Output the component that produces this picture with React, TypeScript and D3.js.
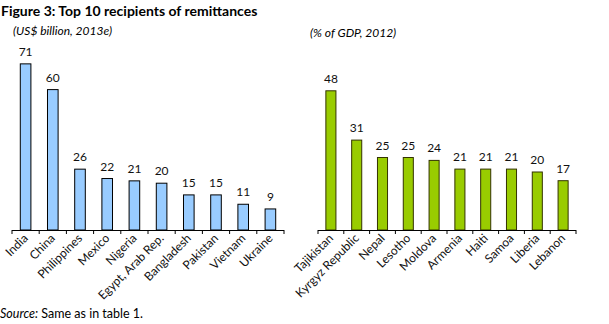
import React from "react";
import * as d3 from "d3";

const leftCategories = ["India", "China", "Philippines", "Mexico", "Nigeria", "Egypt, Arab Rep.", "Bangladesh", "Pakistan", "Vietnam", "Ukraine"];
const leftValues = [71, 60, 26, 22, 21, 20, 15, 15, 11, 9];
const rightCategories = ["Tajikistan", "Kyrgyz Republic", "Nepal", "Lesotho", "Moldova", "Armenia", "Haiti", "Samoa", "Liberia", "Lebanon"];
const rightValues = [48, 31, 25, 25, 24, 21, 21, 21, 20, 17];

const FONT = "Lato, 'Open Sans', sans-serif";

type PanelProps = {
  categories: string[];
  values: number[];
  x0: number;
  x1: number;
  yMaxValue: number;
  yMaxPx: number;
  fill: string;
  stroke: string;
};

function Panel({ categories, values, x0, x1, yMaxValue, yMaxPx, fill, stroke }: PanelProps) {
  const baseY = 230;
  const x = d3.scaleBand<string>().domain(categories).range([x0, x1]).paddingInner(0.61).paddingOuter(0.305);
  const y = d3.scaleLinear().domain([0, yMaxValue]).range([baseY, yMaxPx]);
  const step = x.step();
  const ticks = d3.range(categories.length + 1).map((i) => x0 + i * step);
  return (
    <g>
      {categories.map((c, i) => (
        <g key={c}>
          <rect
            x={x(c)!}
            y={y(values[i])}
            width={x.bandwidth()}
            height={baseY - y(values[i])}
            fill={fill}
            stroke={stroke}
            strokeWidth={1}
          />
          <text
            x={x(c)! + x.bandwidth() / 2}
            y={y(values[i]) - 8}
            textAnchor="middle"
            fontSize={12}
            fontFamily={FONT}
            fill="#111"
          >
            {values[i]}
          </text>
          <text
            transform={`translate(${x(c)! + x.bandwidth() / 2 + 3},${baseY + 9}) rotate(-45)`}
            textAnchor="end"
            fontSize={12}
            fontFamily={FONT}
            fill="#111"
          >
            {c}
          </text>
        </g>
      ))}
      <line x1={x0} x2={x1} y1={baseY + 0.5} y2={baseY + 0.5} stroke="#000" strokeWidth={1} />
      {ticks.map((t, i) => (
        <line key={i} x1={t} x2={t} y1={baseY} y2={baseY + 4} stroke="#000" strokeWidth={1} />
      ))}
    </g>
  );
}

export default function App() {
  return (
    <svg
      width={609}
      height={324}
      style={{ position: "absolute", left: 0, top: 0, background: "#fff" }}
    >
      <rect width={609} height={324} fill="#fff" />
      <text x={1} y={16} fontSize={14} fontWeight="bold" fontFamily={FONT} fill="#000">
        Figure 3: Top 10 recipients of remittances
      </text>
      <text x={13} y={35} fontSize={12} fontStyle="italic" fontFamily={FONT} fill="#000">
        (US$ billion, 2013e)
      </text>
      <text x={310} y={37} fontSize={12} fontStyle="italic" fontFamily={FONT} fill="#000">
        (% of GDP, 2012)
      </text>
      <Panel
        categories={leftCategories}
        values={leftValues}
        x0={12}
        x1={284}
        yMaxValue={80}
        yMaxPx={230 - 80 * 2.34}
        fill="#99ccff"
        stroke="#000"
      />
      <Panel
        categories={rightCategories}
        values={rightValues}
        x0={318}
        x1={576}
        yMaxValue={50}
        yMaxPx={230 - 50 * 2.9}
        fill="#99cc00"
        stroke="#333300"
      />
      <text x={0} y={318} fontSize={12.5} fontFamily={FONT} fill="#000">
        <tspan fontStyle="italic">Source:</tspan> Same as in table 1.
      </text>
    </svg>
  );
}
